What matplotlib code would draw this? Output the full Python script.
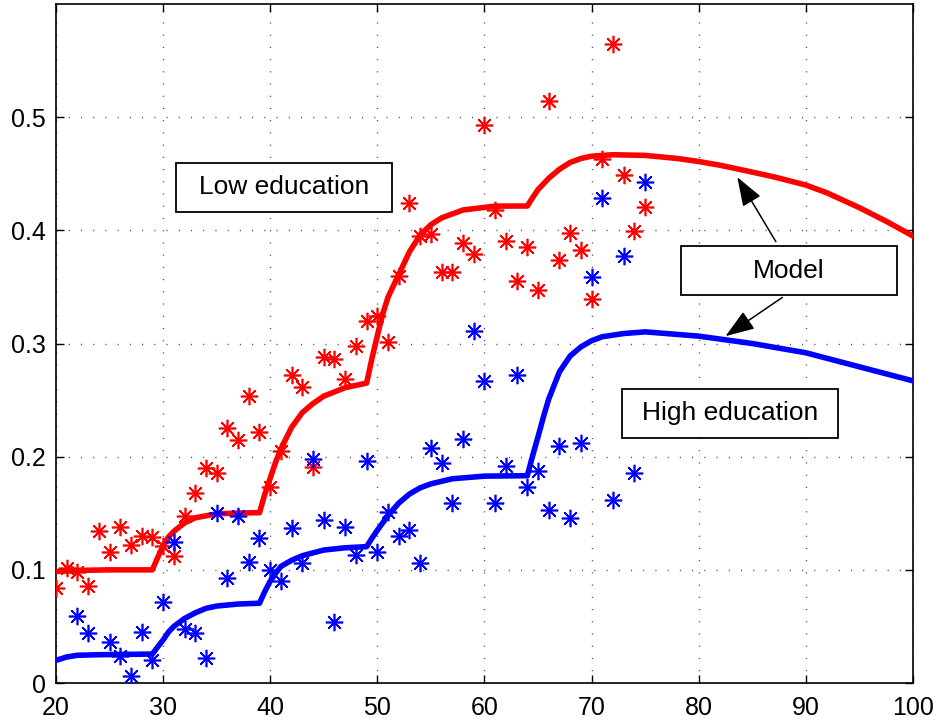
import matplotlib
matplotlib.use("Agg")
import matplotlib.pyplot as plt
from matplotlib.patches import Rectangle

# observed shares by age
age_low = list(range(20, 76))
share_low = [
    0.084, 0.102, 0.098, 0.086, 0.134, 0.116, 0.138, 0.122, 0.130, 0.129,
    0.121, 0.112, 0.148, 0.168, 0.190, 0.186, 0.225, 0.215, 0.254, 0.222,
    0.173, 0.205, 0.272, 0.262, 0.191, 0.288, 0.286, 0.269, 0.298, 0.320,
    0.324, 0.301, 0.360, 0.424, 0.395, 0.397, 0.363, 0.363, 0.389, 0.379,
    0.493, 0.418, 0.391, 0.355, 0.385, 0.347, 0.514, 0.374, 0.398, 0.383,
    0.339, 0.463, 0.565, 0.449, 0.399, 0.421,
]
age_high = [22, 23] + list(range(25, 76))
share_high = [
    0.059, 0.0445, 0.036, 0.024, 0.006, 0.045, 0.020, 0.072, 0.125, 0.048,
    0.044, 0.022, 0.150, 0.093, 0.148, 0.107, 0.128, 0.100, 0.090, 0.137,
    0.106, 0.198, 0.144, 0.054, 0.1375, 0.113, 0.196, 0.116, 0.151, 0.130,
    0.135, 0.106, 0.208, 0.194, 0.159, 0.216, 0.311, 0.267, 0.159, 0.192,
    0.272, 0.173, 0.1875, 0.153, 0.209, 0.1455, 0.212, 0.359, 0.429, 0.162,
    0.377, 0.186, 0.443,
]

# model curves
model_low_x = [20, 22, 25, 29, 29.5, 30, 30.5, 31, 32, 33, 35, 37, 39,
               39.5, 40, 40.5, 41, 42, 43, 44, 45, 47, 49,
               49.5, 50, 50.5, 51, 52, 53, 54, 55, 56, 58, 61, 64,
               64.5, 65, 66, 67, 68, 69, 70, 72, 75, 78, 80, 82, 84, 87, 90,
               92, 95, 97.6, 100]
model_low_y = [0.0985, 0.0995, 0.100, 0.100, 0.111, 0.121, 0.129, 0.134,
               0.1415, 0.146, 0.1495, 0.1502, 0.1505,
               0.167, 0.181, 0.195, 0.207, 0.226, 0.239, 0.247, 0.2535,
               0.261, 0.265,
               0.287, 0.307, 0.326, 0.341, 0.361, 0.381, 0.396, 0.405,
               0.411, 0.418, 0.4214, 0.4215,
               0.429, 0.436, 0.446, 0.454, 0.460, 0.4635, 0.4655, 0.4668,
               0.4662, 0.4635, 0.4608, 0.4575, 0.4535, 0.4473, 0.440, 0.433,
               0.420, 0.4075, 0.395]
model_high_x = [20, 21, 22, 24, 29, 29.5, 30, 30.5, 31, 32, 33, 34, 35, 37, 39,
                39.5, 40, 40.5, 41, 42, 43, 45, 47, 49,
                49.5, 50, 51, 52, 53, 54, 55, 57, 60, 64,
                64.5, 65, 65.5, 66, 67, 68, 69, 70, 71, 73, 75, 80, 85, 90,
                95, 100]
model_high_y = [0.020, 0.023, 0.0245, 0.025, 0.0256, 0.032, 0.038, 0.045,
                0.050, 0.057, 0.062, 0.066, 0.068, 0.0698, 0.0705,
                0.081, 0.090, 0.097, 0.103, 0.1085, 0.1125, 0.1175, 0.1195,
                0.1205,
                0.128, 0.135, 0.148, 0.159, 0.167, 0.1725, 0.176, 0.1805,
                0.1828, 0.1832,
                0.201, 0.2176, 0.235, 0.251, 0.275, 0.289, 0.297, 0.3025,
                0.306, 0.3088, 0.3103, 0.3065, 0.300, 0.2918, 0.2794, 0.267]

x_ticks = [20, 30, 40, 50, 60, 70, 80, 90, 100]
y_ticks = [0, 0.1, 0.2, 0.3, 0.4, 0.5]
y_tick_labels = ["0", "0.1", "0.2", "0.3", "0.4", "0.5"]

plt.rcParams["font.family"] = ["Liberation Sans", "DejaVu Sans"]

fig = plt.figure(figsize=(9.42, 7.26), dpi=100)
ax = fig.add_axes([0.0594, 0.0592, 0.9098, 0.9353])

ax.plot(model_low_x, model_low_y, color=(1, 0, 0), lw=4, zorder=3,
        solid_joinstyle="round")
ax.plot(model_high_x, model_high_y, color=(0, 0, 1), lw=4, zorder=3,
        solid_joinstyle="round")
ax.plot(age_low, share_low, ls="none", marker=(8, 2, 0), ms=12.5,
        mew=1.2, color=(1, 0, 0), zorder=4)
ax.plot(age_high, share_high, ls="none", marker=(8, 2, 0), ms=12.5,
        mew=1.2, color=(0, 0, 1), zorder=4)

ax.set_xlim(20, 100)
ax.set_ylim(0, 0.6)
ax.set_xticks(x_ticks)
ax.set_yticks(y_ticks)
ax.set_yticklabels(y_tick_labels)
ax.tick_params(direction="in", top=True, right=True, length=6, width=1,
               labelsize=18)
ax.tick_params(axis="x", pad=9)
ax.tick_params(axis="y", pad=7)
for sp in ax.spines.values():
    sp.set_linewidth(1.2)
ax.grid(True, color="0.3", lw=1.0, ls=(0, (0.8, 8)))
ax.set_axisbelow(True)

# text boxes
box_w, box_h = 20.17, 0.0433
boxes = [("Low education", 31.2, 0.4164),
         ("Model", 78.35, 0.3428),
         ("High education", 72.8, 0.2167)]
for label, bx, by in boxes:
    ax.add_patch(Rectangle((bx, by), box_w, box_h, facecolor="white",
                           edgecolor="black", lw=1.3, zorder=6))
    ax.text(bx + box_w / 2, by + box_h / 2, label, fontsize=19,
            ha="center", va="center", zorder=7)

arrow = dict(arrowstyle="-|>,head_length=0.9,head_width=0.32",
             color="black", lw=1.1, mutation_scale=20, shrinkA=0, shrinkB=0)
ax.annotate("", xy=(83.6, 0.447), xytext=(87.2, 0.390), arrowprops=arrow,
            zorder=7)
ax.annotate("", xy=(82.5, 0.3065), xytext=(87.8, 0.3407), arrowprops=arrow,
            zorder=7)

fig.savefig("out.png", dpi=100)
